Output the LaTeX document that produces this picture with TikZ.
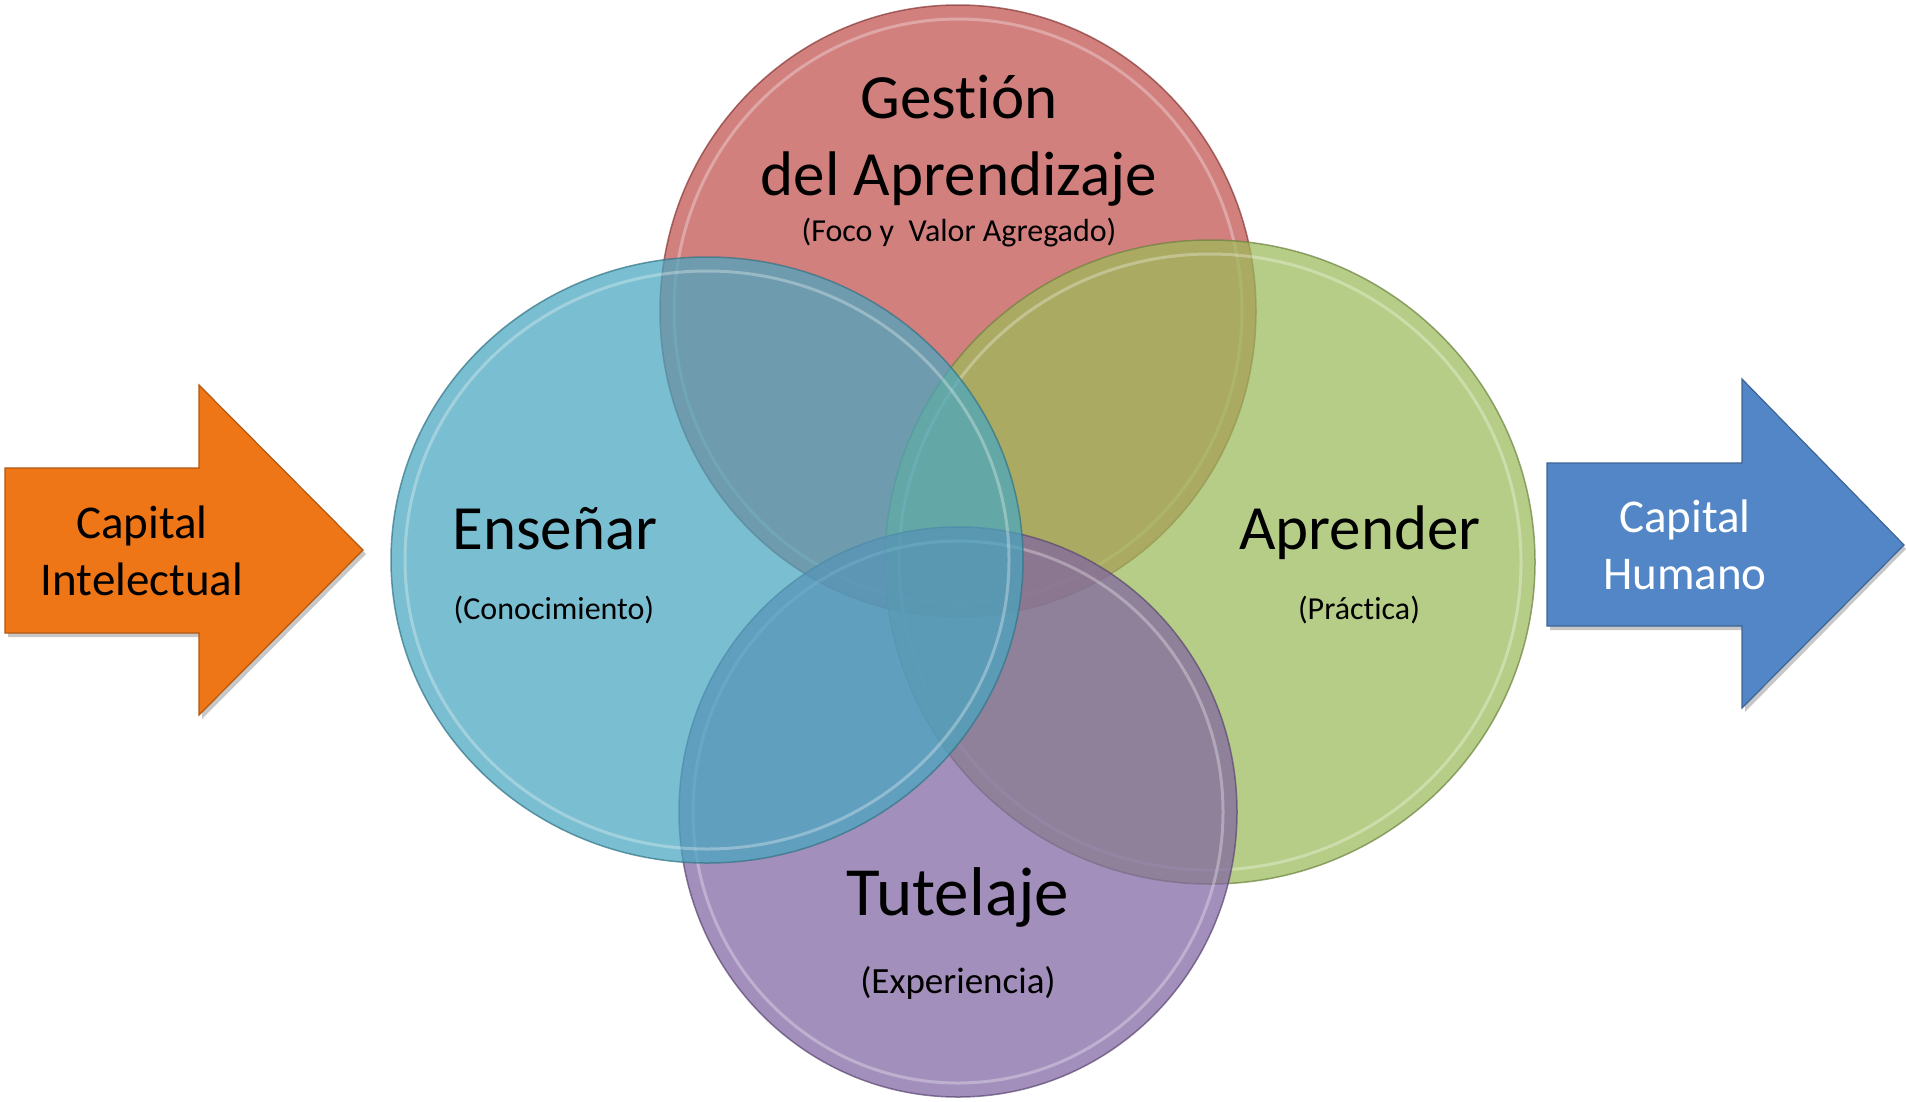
\documentclass[tikz,border=0pt]{standalone}
\usepackage{fontspec}
\setmainfont{Carlito}[Ligatures={NoCommon,NoRequired,NoContextual}]
\definecolor{cred}{RGB}{192,80,77}
\definecolor{cblue}{RGB}{72,166,192}
\definecolor{cgreen}{RGB}{155,187,89}
\definecolor{cpurple}{RGB}{128,100,162}
\definecolor{corange}{RGB}{238,118,22}
\definecolor{carrblue}{RGB}{82,134,199}
\tikzset{
  circ/.style={fill=#1, draw=#1!70!black, fill opacity=0.72, draw opacity=0.7, line width=1.5pt},
  ring/.style={draw=white, draw opacity=0.3, line width=3pt},
  bigtext/.style={font=\fontsize{63}{70}\selectfont, anchor=base, text=black},
  smalltext/.style={font=\fontsize{32}{36}\selectfont, anchor=base, text=black},
  arrtext/.style={font=\fontsize{47}{57}\selectfont, anchor=base},
  arrshape/.style={fill=#1, draw=#1!75!black, line width=1.2pt},
  arrshadow/.style={fill=black, fill opacity=0.22},
}
\begin{document}
\begin{tikzpicture}[x=1pt,y=-1pt]
\useasboundingbox (0,0) rectangle (1906,1101);
\fill[white] (0,0) rectangle (1906,1101);

% arrows
\path[arrshadow] (8,472) -- (202,472) -- (202,389) -- (366,554) -- (202,719) -- (202,637) -- (8,637) -- cycle;
\path[arrshape=corange] (5,468) -- (199,468) -- (199,385) -- (363,550) -- (199,715) -- (199,633) -- (5,633) -- cycle;
\path[arrshadow] (1550,467) -- (1745,467) -- (1745,383) -- (1906,549) -- (1745,712) -- (1745,630) -- (1550,630) -- cycle;
\path[arrshape=carrblue] (1547,463) -- (1742,463) -- (1742,379) -- (1904,545) -- (1742,708) -- (1742,626) -- (1547,626) -- cycle;

% circles: red, green, purple, blue
\path[circ=cred] (958,311) ellipse [x radius=298, y radius=306];
\path[ring] (958,311) ellipse [x radius=284, y radius=292];
\path[circ=cgreen] (1210,562) ellipse [x radius=325, y radius=322];
\path[ring] (1210,562) ellipse [x radius=311, y radius=308];
\path[circ=cpurple] (958,812) ellipse [x radius=279, y radius=285];
\path[ring] (958,812) ellipse [x radius=265, y radius=271];
\path[circ=cblue] (707,560) ellipse [x radius=316, y radius=303];
\path[ring] (707,560) ellipse [x radius=302, y radius=289];

% texts
\node[bigtext] (gest) at (959,118) {Gestión};
\node[bigtext] (dela) at (959,195) {del Aprendizaje};
\node[smalltext] (foco) at (959,241) {(Foco y\ \ Valor Agregado)};
\node[bigtext] (ense) at (555,549) {Enseñar};
\node[smalltext] (cono) at (554,619) {(Conocimiento)};
\node[bigtext] (apre) at (1360,549) {Aprender};
\node[smalltext] (prac) at (1359,619) {(Práctica)};
\node[bigtext, font=\fontsize{69}{76}\selectfont] (tute) at (958,915) {Tutelaje};
\node[smalltext, font=\fontsize{37}{42}\selectfont] (expe) at (958,993) {(Experiencia)};
\node[arrtext, text=black] (capi1) at (142,538) {Capital};
\node[arrtext, text=black] (inte) at (142,595) {Intelectual};
\node[arrtext, text=white] (capi2) at (1685,532) {Capital};
\node[arrtext, text=white] (huma) at (1685,589) {Humano};
\end{tikzpicture}
\end{document}
